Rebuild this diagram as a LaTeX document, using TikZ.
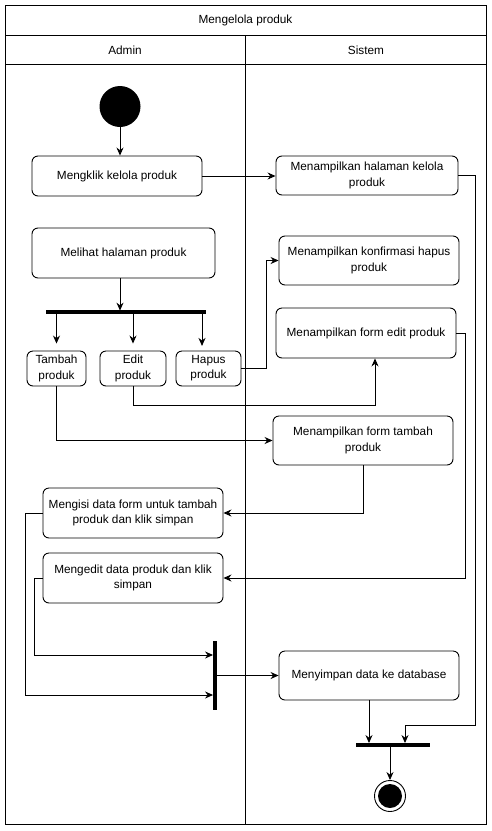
\documentclass[tikz,border=0pt]{standalone}
\usepackage{fontspec}
\setmainfont{Liberation Sans}
\usetikzlibrary{arrows.meta,shapes,positioning}
\tikzstyle{arrow} = [->,>={Stealth[length=8pt,width=7pt]},line width=0.9pt]
\tikzstyle{aktivitas} = [rectangle, rounded corners=6pt, draw, line width=0.9pt, align=center, inner sep=2pt, font=\fontsize{11.8}{15.2}\selectfont]
\tikzstyle{batang} = [rectangle, fill=black, inner sep=0pt]
\tikzstyle{lajur} = [font=\fontsize{11.8}{15.2}\selectfont]

\begin{document}
\begin{tikzpicture}[x=1pt,y=-1pt]
\useasboundingbox (0,0) rectangle (492,831);
% Swimlane
\draw[line width=0.9pt] (5,5) rectangle (486,824);
\draw[line width=0.9pt] (5,35) -- (486,35);
\draw[line width=0.9pt] (5,64) -- (486,64);
\draw[line width=0.9pt] (245.5,35) -- (245.5,824);
\node[lajur] (judul) at (245.5,20) {Mengelola produk};
\node[lajur] (admin) at (125,50) {Admin};
\node[lajur] (sistem) at (366,50) {Sistem};

% Aktivitas
\node[circle, fill=black, minimum size=41pt, inner sep=0pt] (mulai) at (120,106.5) {};
\node[aktivitas, minimum width=170pt, minimum height=40pt] (klik) at (117,176) {Mengklik kelola produk};
\node[aktivitas, minimum width=182pt, minimum height=39pt] (halaman) at (367,175.5) {Menampilkan halaman kelola\\produk};
\node[aktivitas, minimum width=183pt, minimum height=50pt] (lihat) at (123.5,253) {Melihat halaman produk};
\node[aktivitas, minimum width=180pt, minimum height=49pt] (konfirmasi) at (369,260.5) {Menampilkan konfirmasi hapus\\produk};
\node[aktivitas, minimum width=180pt, minimum height=50pt] (formedit) at (366,333) {Menampilkan form edit produk};
\node[batang, minimum width=160pt, minimum height=3.5pt] (cabang) at (126,312) {};
\node[aktivitas, minimum width=59pt, minimum height=35pt, inner sep=1pt] (tambah) at (56.5,368.5) {Tambah\\produk};
\node[aktivitas, minimum width=66pt, minimum height=35pt, inner sep=1pt] (edit) at (133,368.5) {Edit\\produk};
\node[aktivitas, minimum width=65pt, minimum height=35pt, inner sep=1pt] (hapus) at (208.5,368.5) {Hapus\\produk};
\node[aktivitas, minimum width=180pt, minimum height=49pt] (formtambah) at (363,440.5) {Menampilkan form tambah\\produk};
\node[aktivitas, minimum width=180pt, minimum height=50pt] (mengisi) at (133,513) {Mengisi data form untuk tambah\\produk dan klik simpan};
\node[aktivitas, minimum width=180pt, minimum height=50pt] (mengedit) at (133,578) {Mengedit data produk dan klik\\simpan};
\node[batang, minimum width=3.5pt, minimum height=69pt] (gabung) at (215,675.5) {};
\node[aktivitas, minimum width=180pt, minimum height=49pt] (simpan) at (369,675.5) {Menyimpan data ke database};
\node[batang, minimum width=74pt, minimum height=3.5pt] (akhirbar) at (393,745) {};
\node[circle, draw, line width=0.9pt, minimum size=31pt, inner sep=0pt] (selesai) at (390,796) {};
\fill (selesai) circle (12pt);

% Alur
\draw[arrow] (mulai.south) -- (mulai.south |- klik.north);
\draw[arrow] (klik.east) -- (klik.east -| halaman.west);
\draw[arrow] (halaman.east) -- ++(17,0) -- ++(0,550) -| ([xshift=12pt]akhirbar.north);
\draw[arrow] (lihat.south) ++(-3.5,0) -- ++(0,32.2);
\draw[arrow, shorten >=7pt] (cabang.south -| tambah.north) -- (tambah.north);
\draw[arrow, shorten >=7pt] (cabang.south -| edit.north) -- (edit.north);
\draw[arrow] (cabang.south -| hapus.north) ++(-6.5,0) -- ++(0,32);
\draw[arrow] (hapus.east) -- ++(24.5,0) |- (konfirmasi.west);
\draw[arrow] (edit.south) -- ++(0,19) -| ([xshift=9pt]formedit.south);
\draw[arrow] (tambah.south) |- (formtambah.west);
\draw[arrow] (formtambah.south) |- (mengisi.east);
\draw[arrow] (formedit.east) -- ++(9,0) |- (mengedit.east);
\draw[arrow] (mengisi.west) -- ++(-17.3,0) |- ([yshift=-19.5pt]gabung.west);
\draw[arrow] (mengedit.west) -- ++(-8,0) |- ([yshift=20.5pt]gabung.west);
\draw[arrow] (gabung.east |- simpan.west) -- (simpan.west);
\draw[arrow] (simpan.south) -- (simpan.south |- akhirbar.north);
\draw[arrow] (selesai.north |- akhirbar.south) -- (selesai.north);
\end{tikzpicture}
\end{document}
